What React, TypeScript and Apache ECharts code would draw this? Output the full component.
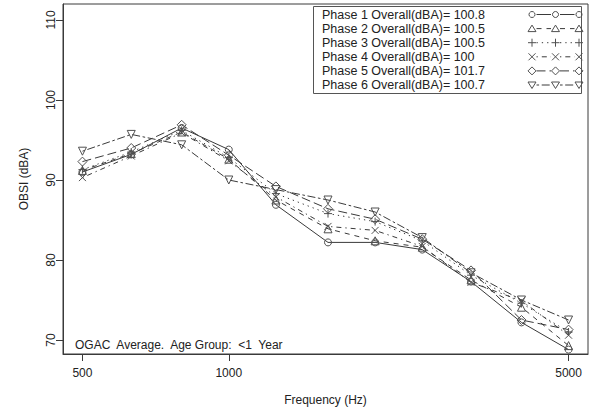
import React, { useEffect, useRef } from 'react';
import * as echarts from 'echarts';

const FREQUENCIES = [500, 630, 800, 1000, 1250, 1600, 2000, 2500, 3150, 4000, 5000];
const PHASE_1 = [91.0, 93.2, 96.5, 93.8, 86.9, 82.2, 82.2, 81.3, 77.3, 72.2, 68.8];
const PHASE_2 = [91.2, 93.3, 96.0, 92.6, 87.5, 83.9, 82.4, 81.6, 77.5, 74.1, 69.3];
const PHASE_3 = [91.3, 93.5, 96.2, 92.8, 88.3, 85.8, 84.8, 82.4, 78.1, 74.6, 71.0];
const PHASE_4 = [90.3, 93.0, 95.9, 92.4, 87.9, 84.2, 83.7, 81.7, 77.2, 74.9, 70.6];
const PHASE_5 = [92.3, 94.0, 96.9, 93.1, 89.2, 86.4, 85.1, 82.6, 78.7, 72.5, 71.3];
const PHASE_6 = [93.6, 95.7, 94.4, 90.0, 88.8, 87.5, 86.0, 82.8, 78.4, 75.0, 72.5];
const PHASES = [PHASE_1, PHASE_2, PHASE_3, PHASE_4, PHASE_5, PHASE_6];
const PHASE_NAMES = ['Phase 1', 'Phase 2', 'Phase 3', 'Phase 4', 'Phase 5', 'Phase 6'];
const PHASE_LABELS = [
  'Phase 1 Overall(dBA)= 100.8',
  'Phase 2 Overall(dBA)= 100.5',
  'Phase 3 Overall(dBA)= 100.5',
  'Phase 4 Overall(dBA)= 100',
  'Phase 5 Overall(dBA)= 101.7',
  'Phase 6 Overall(dBA)= 100.7',
];
const X_TICKS = [500, 1000, 5000];
const Y_TICKS = [70, 80, 90, 100, 110];
const NOTE = 'OGAC  Average.  Age Group:  <1  Year';
const X_TITLE = 'Frequency (Hz)';
const Y_TITLE = 'OBSI (dBA)';

const FONT = '"Liberation Sans", Arial, sans-serif';
const TEXT = '#222';
const LINE = '#3a3a3a';
const MARK = '#505050';

const KINDS = ['circle', 'triangle', 'plus', 'cross', 'diamond', 'down'];
const DASHES: (number[] | 'solid')[] = [
  'solid',
  [5, 5],
  [1.3, 4],
  [1.3, 4, 5, 4],
  [9, 4],
  [2.6, 2.6, 8, 2.6],
];
const SYMBOLS: Record<string, { symbol: string; size: number }> = {
  circle: { symbol: 'circle', size: 7 },
  triangle: { symbol: 'path://M5,0L10,8.66L0,8.66Z', size: 8 },
  plus: { symbol: 'path://M0,5L10,5M5,0L5,10', size: 8 },
  cross: { symbol: 'path://M0,0L10,10M10,0L0,10', size: 7 },
  diamond: { symbol: 'path://M5,0L10,5L5,10L0,5Z', size: 9 },
  down: { symbol: 'path://M0,0L10,0L5,8.66Z', size: 8 },
};

function marker(kind: string, x: number, y: number): any[] {
  const st = { fill: 'none', stroke: MARK, lineWidth: 1 };
  const r = 3;
  switch (kind) {
    case 'circle':
      return [{ type: 'circle', shape: { cx: x, cy: y, r }, style: st }];
    case 'triangle':
      return [{ type: 'polygon', shape: { points: [[x, y - 3.5], [x + 4, y + 3], [x - 4, y + 3]] }, style: st }];
    case 'down':
      return [{ type: 'polygon', shape: { points: [[x - 4, y - 3], [x + 4, y - 3], [x, y + 3.5]] }, style: st }];
    case 'diamond':
      return [{ type: 'polygon', shape: { points: [[x, y - 4], [x + 4, y], [x, y + 4], [x - 4, y]] }, style: st }];
    case 'plus':
      return [
        { type: 'line', shape: { x1: x - 4, y1: y, x2: x + 4, y2: y }, style: st },
        { type: 'line', shape: { x1: x, y1: y - 4, x2: x, y2: y + 4 }, style: st },
      ];
    default:
      return [
        { type: 'line', shape: { x1: x - 3.5, y1: y - 3.5, x2: x + 3.5, y2: y + 3.5 }, style: st },
        { type: 'line', shape: { x1: x + 3.5, y1: y - 3.5, x2: x - 3.5, y2: y + 3.5 }, style: st },
      ];
  }
}

export default function App() {
  const ref = useRef<HTMLDivElement>(null);
  useEffect(() => {
    if (!ref.current) return;
    const chart = echarts.init(ref.current, null, { renderer: 'svg' });

    const series = PHASES.map((vals, i) => {
      const k = KINDS[i];
      return {
        name: PHASE_NAMES[i],
        type: 'line',
        data: FREQUENCIES.map((f, j) => [f, vals[j]]),
        symbol: SYMBOLS[k].symbol,
        symbolSize: SYMBOLS[k].size,
        showAllSymbol: true,
        silent: true,
        itemStyle: { color: 'rgba(255,255,255,0)', borderColor: MARK, borderWidth: 1 },
        lineStyle: { color: LINE, width: 1, type: DASHES[i] },
        emphasis: { disabled: true },
        z: 3,
      };
    });

    const legendX = [532, 555.5, 579];
    const rowY0 = 14.5;
    const rowGap = 14.1;
    const legendEls: any[] = [
      {
        type: 'rect',
        shape: { x: 313.5, y: 6.5, width: 268, height: 87 },
        style: { fill: '#fff', stroke: '#555', lineWidth: 1 },
      },
    ];
    PHASE_LABELS.forEach((label, i) => {
      const y = rowY0 + rowGap * i;
      legendEls.push({
        type: 'text',
        x: 322,
        y,
        style: { text: label, font: `12.5px ${FONT}`, fill: TEXT, verticalAlign: 'middle', align: 'left' },
      });
      for (let s = 0; s < 2; s++) {
        legendEls.push({
          type: 'line',
          shape: { x1: legendX[s] + 4.5, y1: y, x2: legendX[s + 1] - 4.5, y2: y },
          style: { stroke: LINE, lineWidth: 1, lineDash: DASHES[i] === 'solid' ? null : DASHES[i] },
        });
      }
      legendX.forEach((x) => legendEls.push(...marker(KINDS[i], x, y)));
    });

    chart.setOption({
      animation: false,
      backgroundColor: '#fff',
      textStyle: { fontFamily: FONT },
      grid: {
        left: 63,
        right: 6,
        top: 4,
        bottom: 59,
        show: true,
        borderColor: LINE,
        borderWidth: 1,
        backgroundColor: 'transparent',
      },
      xAxis: {
        type: 'log',
        logBase: 10,
        min: 456,
        max: 5482,
        axisLine: { show: true, onZero: false, lineStyle: { color: LINE, width: 1 } },
        axisTick: { show: true, customValues: X_TICKS, length: 7, lineStyle: { color: LINE } },
        axisLabel: {
          customValues: X_TICKS,
          margin: 13,
          fontSize: 12,
          color: TEXT,
          fontFamily: FONT,
          formatter: (v: number) => String(Math.round(v)),
        },
        splitLine: { show: false },
        minorTick: { show: false },
        name: X_TITLE,
        nameLocation: 'middle',
        nameGap: 40,
        nameTextStyle: { fontSize: 12, color: TEXT, fontFamily: FONT },
      },
      yAxis: {
        type: 'value',
        min: 68.25,
        max: 112,
        axisLine: { show: true, lineStyle: { color: LINE, width: 1 } },
        axisTick: { show: true, customValues: Y_TICKS, length: 7, lineStyle: { color: LINE } },
        axisLabel: {
          customValues: Y_TICKS,
          rotate: 90,
          margin: 6,
          fontSize: 12,
          color: TEXT,
          fontFamily: FONT,
        },
        splitLine: { show: false },
        name: Y_TITLE,
        nameLocation: 'middle',
        nameGap: 33,
        nameRotate: 90,
        nameTextStyle: { fontSize: 12, color: TEXT, fontFamily: FONT },
      },
      series,
      graphic: [
        {
          type: 'text',
          x: 75,
          y: 345,
          z: 10,
          style: { text: NOTE, font: `12px ${FONT}`, fill: TEXT, verticalAlign: 'middle', align: 'left' },
        },
        { type: 'group', z: 20, children: legendEls },
      ],
    });
    return () => chart.dispose();
  }, []);
  return (
    <div
      ref={ref}
      style={{ position: 'absolute', left: 0, top: 0, width: 594, height: 413 }}
    />
  );
}
